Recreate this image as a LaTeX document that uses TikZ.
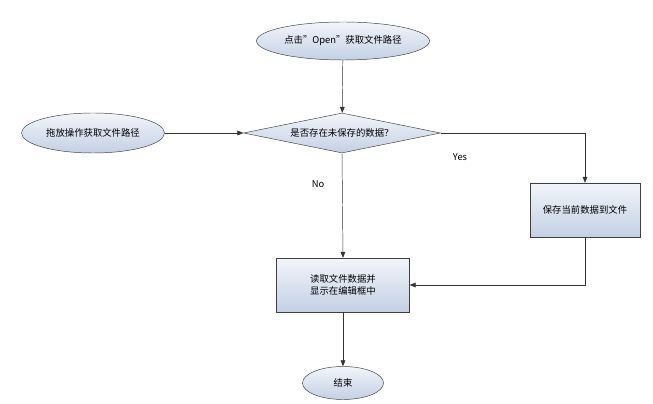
\documentclass[tikz,border=0pt]{standalone}
\usepackage{fontspec}
\setmainfont{Noto Sans CJK SC}
\usetikzlibrary{shapes.geometric,arrows.meta}
\definecolor{boxtop}{HTML}{F2F5FA}
\definecolor{boxbot}{HTML}{C3D0E4}
\begin{document}
\begin{tikzpicture}[x=0.03cm,y=-0.03cm,
    font=\fontsize{8}{10}\selectfont,
    shade/.style={draw=black!75,top color=boxtop,bottom color=boxbot},
    term/.style={shade,ellipse,inner sep=0pt},
    proc/.style={shade,rectangle,inner sep=0pt,align=left},
    decide/.style={shade,diamond,aspect=4.9,inner sep=0pt},
    flow/.style={draw=black!80,-{Triangle[length=5pt,width=4pt]}}]
  \useasboundingbox (0,0) rectangle (653,404);
  \node[term,minimum width=173*0.03cm,minimum height=38*0.03cm] (open) at (343,41) {点击"Open"获取文件路径};
  \node[term,minimum width=143*0.03cm,minimum height=40*0.03cm] (drag) at (93,133) {拖放操作获取文件路径};
  \node[decide,minimum width=197*0.03cm,minimum height=40*0.03cm] (check) at (342,133) {是否存在未保存的数据？};
  \node[proc,minimum width=110*0.03cm,minimum height=54*0.03cm] (save) at (585,210) {保存当前数据到文件};
  \node[proc,minimum width=133*0.03cm,minimum height=54*0.03cm] (load) at (343,285) {读取文件数据并\\显示在编辑框中};
  \node[term,minimum width=81*0.03cm,minimum height=33*0.03cm] (done) at (343,383) {结束};
  \draw[flow] (open) -- (check);
  \draw[flow] (drag) -- (check.west);
  \draw[flow] (check.east) -| (save.north);
  \draw[flow] (check.south) -- (load.north);
  \draw[flow] (save.south) |- (load.east);
  \draw[flow] (load) -- (done);
  \node (yes) at (460,157) {Yes};
  \node (no) at (318,184) {No};
\end{tikzpicture}
\end{document}
